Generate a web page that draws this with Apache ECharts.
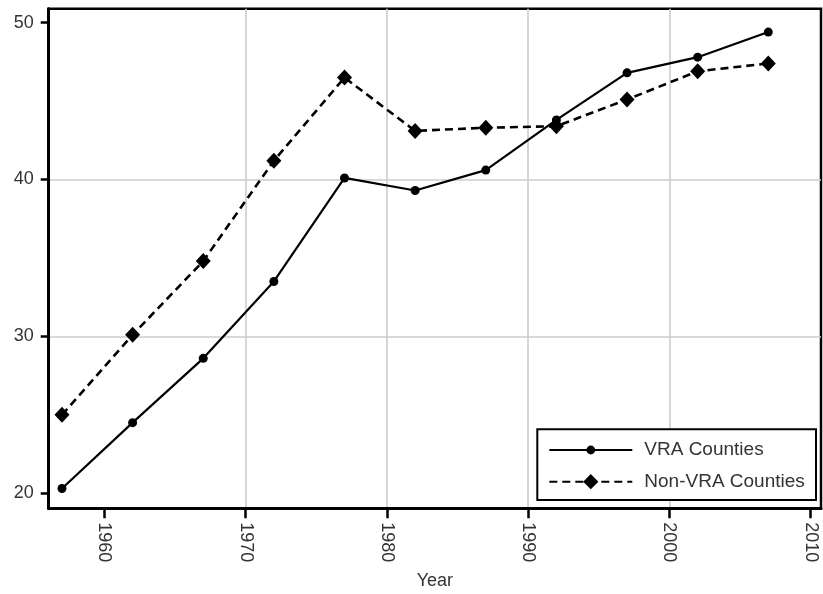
<!DOCTYPE html>
<html>
<head>
<meta charset="utf-8">
<script src="https://cdn.jsdelivr.net/npm/echarts@6/dist/echarts.min.js"></script>
<style>
  html, body { margin: 0; padding: 0; background: #fff; }
  #chart { width: 823px; height: 594px; }
</style>
</head>
<body>
<div id="chart"></div>
<script>
// Survey years
const years = [1957, 1962, 1967, 1972, 1977, 1982, 1987, 1992, 1997, 2002, 2007];
// Share (%) by county group
const vraCounties = [20.3, 24.5, 28.6, 33.5, 40.1, 39.3, 40.6, 43.8, 46.8, 47.8, 49.4];
const nonVraCounties = [25.0, 30.1, 34.8, 41.2, 46.5, 43.1, 43.3, 43.4, 45.1, 46.9, 47.4];
// Axis tick labels
const xTicks = [1960, 1970, 1980, 1990, 2000, 2010];
const yTicks = [20, 30, 40, 50];

const FONT = 'Liberation Sans, Arial, Helvetica, sans-serif';
const TEXT = '#333';

const pairs = (xs, ys) => xs.map((x, i) => [x, ys[i]]);

const chart = echarts.init(document.getElementById('chart'), null, { renderer: 'canvas' });

chart.setOption({
  animation: false,
  backgroundColor: '#fff',
  textStyle: { fontFamily: FONT },
  grid: {
    left: 48.7, right: 2, top: 8.7, bottom: 85.7,
    outerBoundsMode: 'none',
    containLabel: false,
    show: true, borderColor: '#000', borderWidth: 2.5, backgroundColor: 'transparent'
  },
  xAxis: {
    type: 'value',
    min: 1956.06, max: 2010.73,
    splitNumber: 5,
    name: 'Year',
    nameLocation: 'middle',
    nameGap: 64,
    nameMoveOverlap: false,
    nameTextStyle: { fontSize: 18, color: TEXT, fontFamily: FONT },
    axisLine: { show: true, onZero: false, lineStyle: { color: '#000', width: 3 } },
    axisTick: { show: true, customValues: xTicks, length: 10, lineStyle: { color: '#000', width: 2.5 } },
    axisLabel: {
      customValues: xTicks, rotate: -90, margin: 14,
      formatter: (v) => String(v),
      fontSize: 18, color: TEXT, fontFamily: FONT
    },
    splitLine: { show: true, showMinLine: false, showMaxLine: false, lineStyle: { color: '#cccccc', width: 1.6 } }
  },
  yAxis: {
    type: 'value',
    min: 19.04, max: 50.89,
    splitNumber: 3,
    axisLine: { show: true, onZero: false, lineStyle: { color: '#000', width: 3 } },
    axisTick: { show: true, customValues: yTicks, length: 8, lineStyle: { color: '#000', width: 2.5 } },
    axisLabel: {
      customValues: yTicks, margin: 15,
      formatter: (v) => String(v),
      fontSize: 18, color: TEXT, fontFamily: FONT
    },
    splitLine: { show: true, showMinLine: false, showMaxLine: false, lineStyle: { color: '#cccccc', width: 1.6 } }
  },
  graphic: [{
    type: 'rect',
    z: 3,
    shape: { x: 537.3, y: 429.3, width: 278.7, height: 70.7 },
    style: { fill: '#fff', stroke: '#000', lineWidth: 2 }
  }],
  legend: [{
    data: ['VRA Counties'],
    orient: 'vertical',
    left: 548.3, top: 440.5,
    padding: 0,
    itemWidth: 83, itemHeight: 11,
    textStyle: { fontSize: 19, color: TEXT, fontFamily: FONT, padding: [0, 0, 0, 7] },
    z: 5
  }, {
    data: ['Non-VRA Counties'],
    orient: 'vertical',
    left: 548.3, top: 472.2,
    padding: 0,
    itemWidth: 83, itemHeight: 19,
    textStyle: { fontSize: 19, color: TEXT, fontFamily: FONT, padding: [0, 0, 0, 7] },
    z: 5
  }],
  series: [{
    name: 'VRA Counties',
    type: 'line',
    data: pairs(years, vraCounties),
    symbol: 'circle',
    symbolSize: 9,
    itemStyle: { color: '#000' },
    lineStyle: { color: '#000', width: 2.2, type: 'solid' },
    z: 2
  }, {
    name: 'Non-VRA Counties',
    type: 'line',
    data: pairs(years, nonVraCounties),
    symbol: 'diamond',
    symbolSize: [15, 16],
    itemStyle: { color: '#000' },
    lineStyle: { color: '#000', width: 2.6, type: [8, 5] },
    z: 3
  }]
});
</script>
</body>
</html>
